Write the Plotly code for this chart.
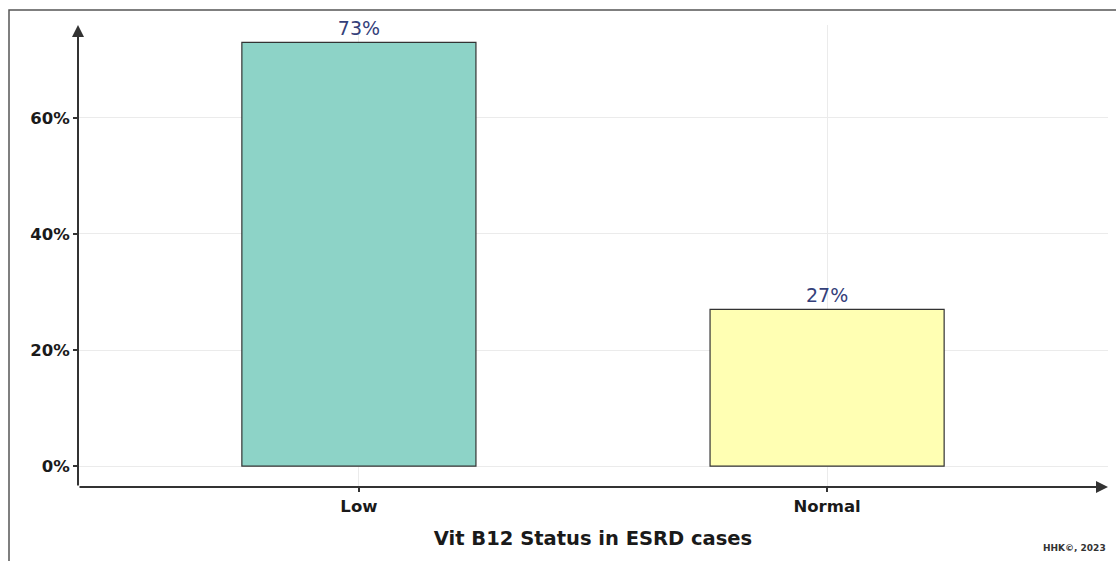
import plotly.graph_objects as go

# B12 status distribution among ESRD cases
categories = ["Low", "Normal"]
shares = [0.73, 0.27]
bar_colors = ["#8DD3C7", "#FFFFB3"]
y_ticks = [0, 0.2, 0.4, 0.6]
y_tick_labels = ["0%", "20%", "40%", "60%"]

W, H = 1116, 561
L, R, T, B = 78, 8, 25, 74
plot_w = W - L - R
plot_h = H - T - B

FONT = "DejaVu Sans, Verdana, sans-serif"

fig = go.Figure(
    go.Bar(
        x=categories,
        y=shares,
        width=0.5,
        marker=dict(color=bar_colors, line=dict(color="#333333", width=1.2)),
        text=[f"{v:.0%}" for v in shares],
        textposition="outside",
        textfont=dict(family=FONT, size=19, color="#34407A"),
        cliponaxis=False,
        hoverinfo="skip",
    )
)

axis_font = dict(family=FONT, size=16.5, color="#1a1a1a", weight=700)

fig.update_layout(
    width=W,
    height=H,
    margin=dict(l=L, r=R, t=T, b=B),
    paper_bgcolor="white",
    plot_bgcolor="white",
    showlegend=False,
    xaxis=dict(
        range=[-0.6, 1.6],
        showgrid=True,
        gridcolor="#EBEBEB",
        gridwidth=1,
        ticks="outside",
        ticklen=4,
        tickcolor="#333333",
        tickwidth=1.5,
        tickfont=axis_font,
        showline=False,
        zeroline=False,
        title=dict(
            text="Vit B12 Status in ESRD cases",
            font=dict(family=FONT, size=19.5, color="#1a1a1a", weight=700),
            standoff=16,
        ),
    ),
    yaxis=dict(
        range=[-0.036, 0.76],
        tickvals=y_ticks,
        ticktext=y_tick_labels,
        showgrid=True,
        gridcolor="#EBEBEB",
        gridwidth=1,
        ticks="outside",
        ticklen=4,
        tickcolor="#333333",
        tickwidth=1.5,
        tickfont=axis_font,
        showline=False,
        zeroline=False,
    ),
)

# Axis lines with arrowheads
arrow_style = dict(
    showarrow=True,
    arrowhead=2,
    arrowsize=1.2,
    arrowwidth=2,
    arrowcolor="#333333",
    text="",
    axref="pixel",
    ayref="pixel",
)
fig.add_annotation(xref="paper", yref="paper", x=0, y=1, ax=0, ay=plot_h, **arrow_style)
fig.add_annotation(xref="paper", yref="paper", x=1, y=0, ax=-plot_w, ay=0, **arrow_style)

# Outer frame along the left and top edges
fx0 = (9 - L) / plot_w
fy_top = (H - B - 10) / plot_h
fy_bot = -(B + 2) / plot_h
fx1 = (W - L + 2) / plot_w
fig.add_shape(
    type="path",
    xref="paper",
    yref="paper",
    path=f"M {fx0} {fy_bot} L {fx0} {fy_top} L {fx1} {fy_top}",
    line=dict(color="#555555", width=1.5),
)

# Caption
fig.add_annotation(
    xref="paper",
    yref="paper",
    x=1,
    y=-(548 - (H - B)) / plot_h,
    xanchor="right",
    yanchor="middle",
    showarrow=False,
    text="HHK©, 2023",
    font=dict(family=FONT, size=9, color="#333333", weight=700),
)

fig.write_html("out.html")
